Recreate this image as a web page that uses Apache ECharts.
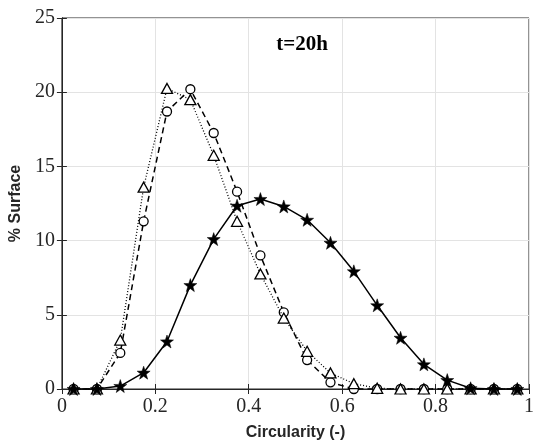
<!DOCTYPE html>
<html><head><meta charset="utf-8">
<script src="https://cdn.jsdelivr.net/npm/echarts@6/dist/echarts.min.js"></script>
<style>html,body{margin:0;padding:0;background:#fff}#c{width:537px;height:448px}</style>
</head><body><div id="c"></div>
<script>
const xValues = [0.025,0.075,0.125,0.175,0.225,0.275,0.325,0.375,0.425,0.475,0.525,0.575,0.625,0.675,0.725,0.775,0.825,0.875,0.925,0.975];
const starSeries = [0,0,0.2,1.1,3.2,7.0,10.1,12.35,12.8,12.3,11.4,9.85,7.93,5.64,3.45,1.66,0.6,0.05,0,0];
const circleSeries = [0,0,2.43,11.3,18.7,20.2,17.25,13.3,9.0,5.17,1.95,0.45,0,0,0,0,0,0,0,0];
const triangleSeries = [0,0,3.3,13.6,20.25,19.5,15.75,11.3,7.75,4.78,2.54,1.08,0.36,0.05,0,0,0,0,0,0];
const xTicks = [0,0.2,0.4,0.6,0.8,1];
const yTicks = [0,5,10,15,20,25];
const titleText = 't=20h';

const pairs = a => xValues.map((x,i)=>[x,a[i]]);
const starPath = 'path://M0,-10 L2.35,-3.24 L9.51,-3.09 L3.8,1.24 L5.88,8.09 L0,4 L-5.88,8.09 L-3.8,1.24 L-9.51,-3.09 L-2.35,-3.24 Z';
const axisCol = '#262626';
const serif = '"Liberation Serif","Times New Roman",serif';
const sans = '"Liberation Sans",Arial,sans-serif';

const chart = echarts.init(document.getElementById('c'), null, {renderer:'canvas'});
chart.setOption({
  animation:false,
  backgroundColor:'#fff',
  title:{text:titleText,left:297,top:29,textAlign:'center',textStyle:{fontFamily:serif,fontWeight:'bold',fontSize:21,color:'#000'}},
  grid:{left:59,right:2,top:18,bottom:59,show:true,borderColor:axisCol,borderWidth:1},
  xAxis:[{type:'value',min:0,max:1,interval:0.2,
    name:'Circularity (-)',nameLocation:'middle',nameGap:36,
    nameTextStyle:{fontFamily:sans,fontWeight:'bold',fontSize:16,color:'#262626'},
    axisLine:{show:true,onZero:false,lineStyle:{color:axisCol}},
    axisTick:{show:true,inside:true,length:5,lineStyle:{color:axisCol}},
    axisLabel:{fontFamily:serif,fontSize:20,color:'#262626',margin:8,formatter:v=>xTicks.includes(+v.toFixed(2))?String(+v.toFixed(2)):''},
    splitLine:{show:true,lineStyle:{color:'#e3e3e3'}}},
   {type:'value',position:'top',min:0,max:1,interval:0.2,axisLine:{show:true,lineStyle:{color:axisCol}},
    axisTick:{show:true,inside:true,length:5,lineStyle:{color:axisCol}},axisLabel:{show:false},splitLine:{show:false}}],
  yAxis:[{type:'value',min:0,max:25,interval:5,
    name:'% Surface',nameLocation:'middle',nameGap:33,nameRotate:90,
    nameTextStyle:{fontFamily:sans,fontWeight:'bold',fontSize:16,color:'#262626'},
    axisLine:{show:true,onZero:false,lineStyle:{color:axisCol}},
    axisTick:{show:true,inside:true,length:5,lineStyle:{color:axisCol}},
    axisLabel:{fontFamily:serif,fontSize:20,color:'#262626',margin:7,formatter:v=>yTicks.includes(v)?String(v):''},
    splitLine:{show:true,lineStyle:{color:'#e3e3e3'}}},
   {type:'value',position:'right',min:0,max:25,interval:5,axisLine:{show:true,lineStyle:{color:axisCol}},
    axisTick:{show:true,inside:true,length:5,lineStyle:{color:axisCol}},axisLabel:{show:false},splitLine:{show:false}}],
  series:[
    {type:'line',data:pairs(circleSeries),symbol:'circle',symbolSize:9,showAllSymbol:true,
     lineStyle:{color:'#000',width:1.5,type:[6,4]},itemStyle:{color:'#fff',borderColor:'#000',borderWidth:1.3},z:2},
    {type:'line',data:pairs(triangleSeries),symbol:'triangle',symbolSize:[11,10],showAllSymbol:true,
     lineStyle:{color:'#000',width:1.3,type:[1,2]},itemStyle:{color:'#fff',borderColor:'#000',borderWidth:1.3},z:3},
    {type:'line',data:pairs(starSeries),symbol:starPath,symbolSize:13,showAllSymbol:true,
     lineStyle:{color:'#000',width:1.5,type:'solid'},itemStyle:{color:'#000',borderColor:'#000',borderWidth:0.5},z:4}
  ]
});
</script></body></html>
